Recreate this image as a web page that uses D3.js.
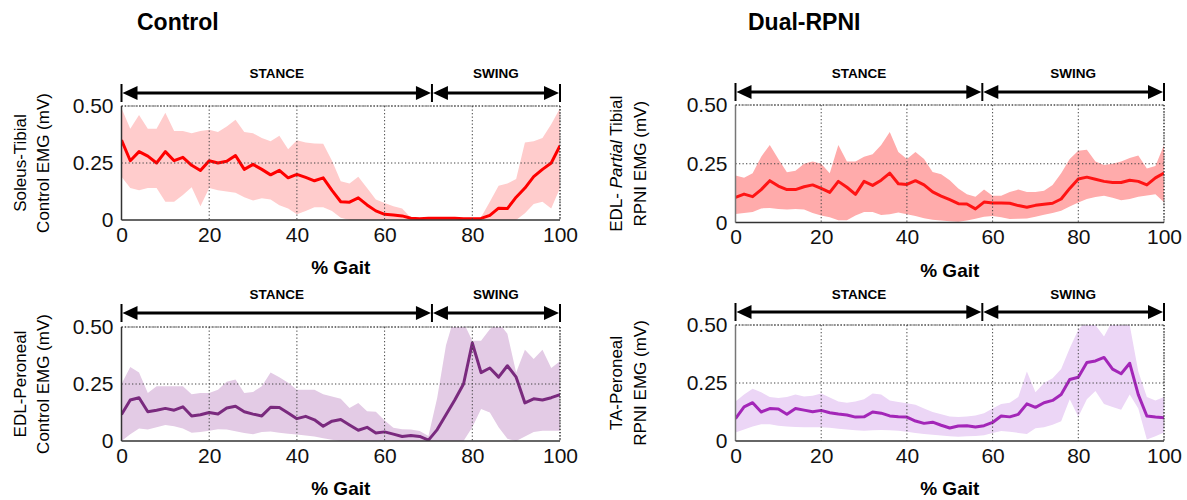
<!DOCTYPE html>
<html><head><meta charset="utf-8">
<script src="https://cdn.jsdelivr.net/npm/d3@7"></script>
<style>
html,body{margin:0;padding:0;background:#fff;}
svg{display:block;}
</style></head><body>
<svg id="chart" width="1187" height="500"></svg>
<script>
// Gait cycle sample points (%)
const gaitPct = [0,2,4,6,8,10,12,14,16,18,20,22,24,26,28,30,32,34,36,38,40,42,44,46,48,50,
  52,54,56,58,60,62,64,66,68,70,72,74,76,78,80,82,84,86,88,90,92,94,96,98,100];

// Soleus-Tibial, control limb (mV): mean and band limits
const soleusMean = [0.35,0.26,0.30,0.28,0.25,0.30,0.26,0.275,0.24,0.217,0.26,0.25,0.258,0.283,0.222,0.244,0.222,0.198,0.218,0.185,
  0.20,0.187,0.172,0.185,0.13,0.08,0.078,0.097,0.066,0.04,0.025,0.022,0.018,0.008,0.006,0.008,0.008,0.008,0.008,0.006,
  0.006,0.007,0.02,0.052,0.05,0.10,0.14,0.19,0.222,0.25,0.326];
const soleusUpper = [0.49,0.40,0.46,0.40,0.40,0.47,0.39,0.39,0.38,0.39,0.396,0.386,0.41,0.44,0.386,0.38,0.36,0.345,0.37,0.31,
  0.35,0.34,0.335,0.334,0.26,0.17,0.16,0.19,0.14,0.09,0.075,0.06,0.05,0.01,0.008,0.01,0.01,0.01,0.01,0.01,
  0.01,0.012,0.08,0.15,0.16,0.18,0.34,0.345,0.36,0.42,0.49];
const soleusLower = [0.19,0.14,0.13,0.14,0.14,0.08,0.08,0.11,0.144,0.06,0.14,0.13,0.125,0.12,0.10,0.085,0.095,0.09,0.065,0.05,
  0.025,0.04,0.056,0.056,0.04,0.01,0,0,0,0,0,0,0,0,0,0,0,0,0,0,
  0,0,0,0,0,0,0.03,0.07,0.08,0.05,0.14];

// EDL-Partial Tibial, RPNI (mV)
const edlTibMean = [0.107,0.121,0.11,0.14,0.178,0.155,0.14,0.14,0.152,0.16,0.145,0.128,0.175,0.15,0.12,0.175,0.158,0.18,0.21,0.165,
  0.162,0.178,0.16,0.13,0.112,0.097,0.08,0.079,0.058,0.087,0.083,0.083,0.082,0.072,0.065,0.073,0.078,0.082,0.10,0.145,
  0.185,0.193,0.184,0.175,0.17,0.17,0.18,0.175,0.16,0.19,0.21];
const edlTibUpper = [0.20,0.19,0.21,0.28,0.33,0.27,0.214,0.22,0.25,0.26,0.25,0.21,0.33,0.26,0.26,0.28,0.29,0.33,0.385,0.30,
  0.27,0.30,0.27,0.215,0.205,0.18,0.145,0.12,0.11,0.14,0.114,0.114,0.13,0.14,0.13,0.13,0.135,0.16,0.21,0.27,
  0.305,0.31,0.26,0.245,0.25,0.26,0.275,0.285,0.23,0.24,0.33];
const edlTibLower = [0.036,0.04,0.045,0.06,0.062,0.057,0.055,0.057,0.055,0.04,0.03,0.022,0.01,0.01,0.03,0.045,0.045,0.032,0.035,0.043,
  0.035,0.028,0.018,0.012,0.008,0.005,0.003,0.008,0.016,0.024,0.028,0.022,0.015,0.016,0.017,0.025,0.033,0.04,0.05,0.068,
  0.085,0.10,0.108,0.114,0.105,0.095,0.1,0.11,0.115,0.12,0.086];

// EDL-Peroneal, control limb (mV)
const edlPerMean = [0.116,0.18,0.19,0.128,0.135,0.143,0.135,0.15,0.11,0.115,0.125,0.118,0.145,0.152,0.128,0.118,0.11,0.148,0.147,0.123,
  0.098,0.108,0.093,0.065,0.087,0.094,0.07,0.047,0.06,0.035,0.04,0.03,0.02,0.024,0.02,0.004,0.05,0.115,0.18,0.25,
  0.43,0.30,0.32,0.28,0.33,0.28,0.167,0.185,0.18,0.19,0.203];
const edlPerUpper = [0.25,0.325,0.30,0.21,0.24,0.24,0.24,0.24,0.205,0.21,0.21,0.225,0.26,0.27,0.21,0.215,0.24,0.30,0.28,0.255,
  0.225,0.225,0.225,0.205,0.195,0.185,0.145,0.167,0.13,0.128,0.09,0.058,0.051,0.05,0.044,0.022,0.19,0.42,0.55,0.52,
  0.44,0.44,0.49,0.52,0.47,0.30,0.40,0.36,0.40,0.32,0.35];
const edlPerLower = [0,0.03,0.055,0.05,0.06,0.07,0.065,0.055,0.036,0.04,0.045,0.052,0.05,0.043,0.035,0.03,0.04,0.042,0.036,0.032,
  0.028,0.024,0.02,0.012,0.005,0,0,0,0,0,0,0,0,0,0,0,0,0,0,0,
  0.06,0.14,0.125,0.06,0.01,0,0.02,0.04,0.045,0.045,0.045];

// TA-Peroneal, RPNI (mV)
const taPerMean = [0.096,0.147,0.165,0.125,0.14,0.138,0.115,0.14,0.133,0.126,0.132,0.122,0.116,0.112,0.103,0.104,0.125,0.12,0.108,0.105,
  0.103,0.086,0.076,0.081,0.068,0.056,0.065,0.066,0.06,0.066,0.08,0.108,0.104,0.115,0.16,0.145,0.165,0.175,0.2,0.265,
  0.275,0.338,0.345,0.36,0.31,0.29,0.335,0.2,0.108,0.103,0.10];
const taPerUpper = [0.17,0.2,0.225,0.21,0.19,0.185,0.19,0.2,0.192,0.195,0.205,0.188,0.17,0.165,0.17,0.18,0.205,0.2,0.175,0.168,
  0.163,0.156,0.14,0.125,0.115,0.106,0.103,0.106,0.11,0.12,0.14,0.16,0.165,0.19,0.30,0.21,0.25,0.27,0.31,0.40,
  0.48,0.52,0.50,0.45,0.52,0.53,0.50,0.30,0.19,0.175,0.19];
const taPerLower = [0.037,0.05,0.062,0.072,0.072,0.066,0.063,0.06,0.059,0.059,0.059,0.057,0.053,0.05,0.046,0.044,0.046,0.047,0.046,0.044,
  0.04,0.034,0.03,0.027,0.024,0.02,0.018,0.02,0.022,0.025,0.035,0.043,0.04,0.035,0.03,0.055,0.059,0.07,0.085,0.18,
  0.105,0.18,0.215,0.16,0.147,0.135,0.2,0.14,0.007,0.02,0.037];

// Axis ticks and labels
const xTicks = [0,20,40,60,80,100];
const yTicks = [0,0.25,0.5];
const yTickLabels = ["0","0.25","0.50"];
const phaseNames = ["STANCE","SWING"];
const controlToeOff = 70.8;   // stance/swing transition, control limb (% gait)
const rpniToeOff = 57.6;      // stance/swing transition, RPNI limb (% gait)
const columnTitles = ["Control","Dual-RPNI"];
const xAxisTitle = "% Gait";

const svg = d3.select("#chart");
const FONT = "'Liberation Sans', Arial, sans-serif";

svg.append("text").attr("x",137).attr("y",30).text(columnTitles[0])
  .attr("font-family",FONT).attr("font-weight","bold").attr("font-size",23).attr("fill","#000");
svg.append("text").attr("x",748).attr("y",30).text(columnTitles[1])
  .attr("font-family",FONT).attr("font-weight","bold").attr("font-size",23).attr("fill","#000");

const panels = [
  { id:"p1", mean:soleusMean, upper:soleusUpper, lower:soleusLower, toeOff:controlToeOff,
    left:121.5, right:560, top:106, bottom:220, arrowY:93, phaseY:78, labelX:[20,43],
    label:[[{t:"Soleus-Tibial"}],[{t:"Control EMG (mV)"}]], line:"#ff0000", band:"#ffcccc", axis:"#333" },
  { id:"p2", mean:edlTibMean, upper:edlTibUpper, lower:edlTibLower, toeOff:rpniToeOff,
    left:735.5, right:1164, top:105, bottom:222.5, arrowY:92, phaseY:78, labelX:[616,640],
    label:[[{t:"EDL- "},{t:"Partial",it:true},{t:" Tibial"}],[{t:"RPNI EMG (mV)"}]], line:"#ff1414", band:"#ffabab", axis:"#777" },
  { id:"p3", mean:edlPerMean, upper:edlPerUpper, lower:edlPerLower, toeOff:controlToeOff,
    left:121.5, right:560, top:327, bottom:441, arrowY:313, phaseY:299, labelX:[20,43],
    label:[[{t:"EDL-Peroneal"}],[{t:"Control EMG (mV)"}]], line:"#7a2a7e", band:"#e3cbe5", axis:"#333" },
  { id:"p4", mean:taPerMean, upper:taPerUpper, lower:taPerLower, toeOff:rpniToeOff,
    left:735.5, right:1164, top:325, bottom:441, arrowY:312, phaseY:299, labelX:[616,640],
    label:[[{t:"TA-Peroneal"}],[{t:"RPNI EMG (mV)"}]], line:"#a326b8", band:"#ecd6f6", axis:"#777" }
];

panels.forEach(p => {
  const x = d3.scaleLinear().domain([0,100]).range([p.left,p.right]);
  const y = d3.scaleLinear().domain([0,0.5]).range([p.bottom,p.top]);
  const g = svg.append("g");

  g.append("clipPath").attr("id","clip-"+p.id).append("rect")
    .attr("x",p.left).attr("y",p.top).attr("width",p.right-p.left).attr("height",p.bottom-p.top);
  const plot = g.append("g").attr("clip-path","url(#clip-"+p.id+")");

  // variability band
  const area = d3.area().x((d,i)=>x(gaitPct[i])).y0((d,i)=>y(p.lower[i])).y1((d,i)=>y(p.upper[i]));
  plot.append("path").datum(p.mean).attr("d",area).attr("fill",p.band).attr("stroke","none");

  // dotted grid
  const dot = "1.3,2.2";
  xTicks.filter(t=>t>0).forEach(t=>{
    g.append("line").attr("x1",x(t)).attr("x2",x(t)).attr("y1",p.top).attr("y2",p.bottom)
      .attr("stroke","#444").attr("stroke-width",1).attr("stroke-dasharray",dot);
  });
  yTicks.filter(t=>t>0).forEach(t=>{
    g.append("line").attr("x1",p.left).attr("x2",p.right).attr("y1",y(t)).attr("y2",y(t))
      .attr("stroke","#444").attr("stroke-width",1).attr("stroke-dasharray",dot);
  });

  // mean trace
  const line = d3.line().x((d,i)=>x(gaitPct[i])).y(d=>y(d));
  plot.append("path").datum(p.mean).attr("d",line).attr("fill","none")
    .attr("stroke",p.line).attr("stroke-width",3).attr("stroke-linejoin","round");

  // frame: solid left/bottom
  g.append("line").attr("x1",p.left).attr("x2",p.left).attr("y1",p.top).attr("y2",p.bottom)
    .attr("stroke",p.axis).attr("stroke-width",1.5);
  g.append("line").attr("x1",p.left).attr("x2",p.right).attr("y1",p.bottom).attr("y2",p.bottom)
    .attr("stroke","#333").attr("stroke-width",1.5);

  // axes
  const ya = g.append("g").attr("transform",`translate(${p.left},0)`)
    .call(d3.axisLeft(y).tickValues(yTicks).tickFormat((d,i)=>yTickLabels[i]).tickSize(0).tickPadding(8));
  const xa = g.append("g").attr("transform",`translate(0,${p.bottom})`)
    .call(d3.axisBottom(x).tickValues(xTicks).tickFormat(d3.format("d")).tickSize(0).tickPadding(7));
  [ya,xa].forEach(a=>{
    a.select(".domain").remove();
    a.selectAll("text").attr("font-family",FONT).attr("font-size",21).attr("fill","#111");
  });

  // axis titles
  const lab = g.append("text").attr("font-family",FONT).attr("font-size",17).attr("fill","#000")
    .attr("text-anchor","middle")
    .attr("transform",`translate(0,${(p.top+p.bottom)/2}) rotate(-90)`);
  p.label.forEach((segs,li)=>{
    const tl = lab.append("tspan").attr("x",0).attr("y",p.labelX[li]+6);
    segs.forEach(s=>{ tl.append("tspan").text(s.t).attr("font-style",s.it?"italic":"normal"); });
  });
  g.append("text").attr("x",(p.left+p.right)/2).attr("y",p.bottom+54).attr("text-anchor","middle")
    .attr("font-family",FONT).attr("font-weight","bold").attr("font-size",19).text(xAxisTitle);

  // stance / swing arrows
  const bounds = [[0,p.toeOff],[p.toeOff,100]];
  const headL = 16, headH = 7;
  bounds.forEach((b,k)=>{
    const a = x(b[0]), c = x(b[1]);
    g.append("line").attr("x1",a+headL-1).attr("x2",c-headL+1).attr("y1",p.arrowY).attr("y2",p.arrowY)
      .attr("stroke","#000").attr("stroke-width",3);
    g.append("path").attr("d",`M${a+1},${p.arrowY}L${a+headL},${p.arrowY-headH}L${a+headL},${p.arrowY+headH}Z`).attr("fill","#000");
    g.append("path").attr("d",`M${c-1},${p.arrowY}L${c-headL},${p.arrowY-headH}L${c-headL},${p.arrowY+headH}Z`).attr("fill","#000");
    g.append("text").attr("x",(a+c)/2).attr("y",p.phaseY).attr("text-anchor","middle")
      .attr("font-family",FONT).attr("font-weight","bold").attr("font-size",13.5).text(phaseNames[k]);
  });
  [0,p.toeOff,100].forEach(t=>{
    g.append("line").attr("x1",x(t)).attr("x2",x(t)).attr("y1",p.arrowY-9).attr("y2",p.arrowY+9)
      .attr("stroke","#000").attr("stroke-width",2);
  });

  // dotted top/right frame
  g.append("line").attr("x1",p.left).attr("x2",p.right).attr("y1",p.top).attr("y2",p.top)
    .attr("stroke","#333").attr("stroke-width",1.2).attr("stroke-dasharray","1.3,1.7");
  g.append("line").attr("x1",p.right).attr("x2",p.right).attr("y1",p.top).attr("y2",p.bottom)
    .attr("stroke","#333").attr("stroke-width",1.2).attr("stroke-dasharray","1.3,1.7");
});
</script>
</body></html>
